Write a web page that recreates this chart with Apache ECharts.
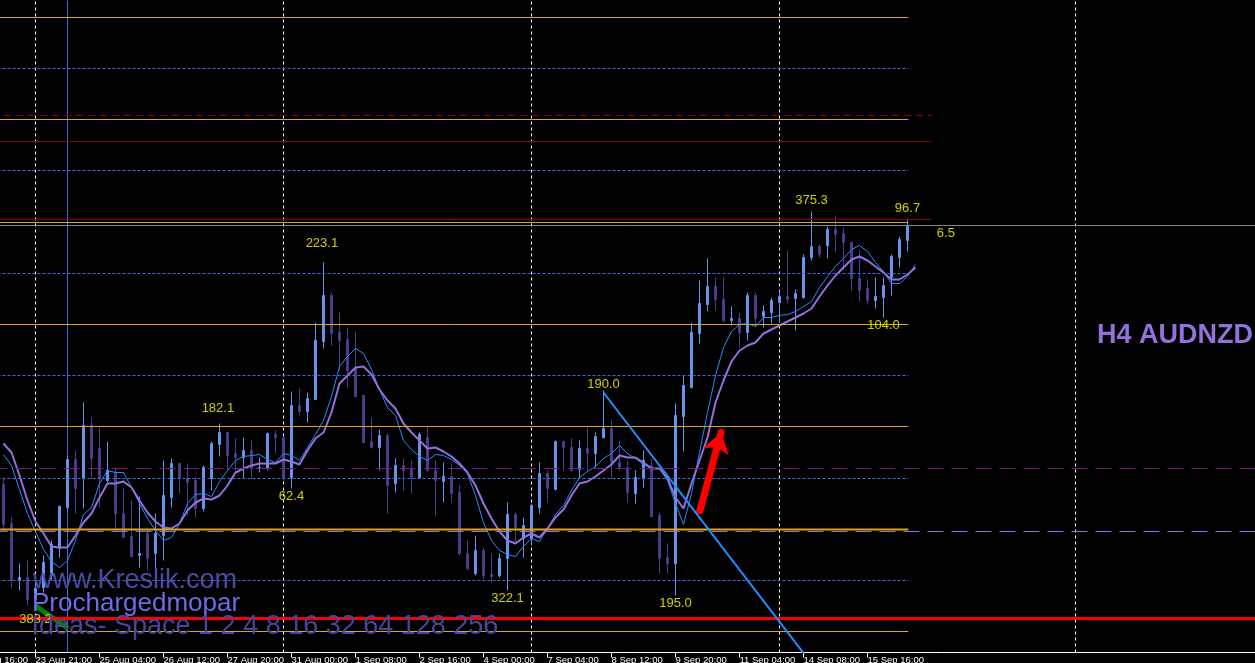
<!DOCTYPE html>
<html><head><meta charset="utf-8">
<script src="https://cdn.jsdelivr.net/npm/echarts@6/dist/echarts.min.js"></script>
<style>html,body{margin:0;padding:0;background:#000;}#c{width:1255px;height:663px;}</style>
</head><body><div id="c"></div>
<script>
// ---- data (price in chart points above the lower edge) ----
const tickLabels = ['20 Aug 16:00','23 Aug 21:00','25 Aug 04:00','26 Aug 12:00','27 Aug 20:00','31 Aug 00:00','1 Sep 08:00','2 Sep 16:00','4 Sep 00:00','7 Sep 04:00','8 Sep 12:00','9 Sep 20:00','11 Sep 04:00','14 Sep 08:00','15 Sep 16:00'];
const opens = [168,129,72,75,53,65,77,104,145,193,174,227,204,172,180,139,116,97,119,99,117,155,189,174,172,144,174,208,220,199,195,202,184,184,218,215,175,247,241,253,311,357,320,313,285,257,211,205,217,169,187,184,175,215,182,171,176,160,99,79,102,78,77,94,138,114,114,145,179,163,211,205,183,204,199,215,224,190,185,159,174,187,137,95,89,236,265,319,348,366,353,332,334,320,357,336,340,350,356,354,355,395,406,407,423,419,410,374,364,352,355,375,395,412];
const closes = [128,72,75,53,64,90,108,146,193,164,227,194,174,182,139,115,96,99,94,119,157,189,174,170,144,185,209,220,197,195,202,184,185,219,215,175,247,241,254,312,357,319,312,282,256,210,205,217,167,187,182,175,218,182,172,176,159,99,84,102,77,76,94,138,125,127,147,179,164,211,205,182,204,199,216,224,190,185,160,175,192,136,94,89,237,267,320,349,366,353,332,334,320,357,334,341,352,356,353,359,395,406,398,423,418,410,374,362,352,356,367,396,413,427];
const lows = [122,64,62,47,46,60,72,95,142,139,144,174,145,170,122,115,95,85,82,82,92,145,159,137,135,141,162,196,182,182,174,174,180,182,199,172,164,237,230,253,304,307,282,265,255,209,204,182,139,160,162,159,174,181,137,150,150,97,82,77,74,70,75,62,109,95,107,139,150,162,182,181,175,182,185,214,174,182,150,149,165,135,79,79,57,201,264,309,341,342,330,327,305,312,325,325,329,330,349,322,354,392,395,394,400,383,362,351,348,344,335,357,385,401];
const highs = [175,135,89,92,77,97,112,147,197,202,250,235,225,211,185,164,152,156,122,139,192,194,190,189,175,187,211,229,221,214,215,212,195,220,222,216,261,264,260,330,390,360,340,325,321,258,235,223,219,194,194,192,220,226,192,190,189,167,112,117,105,99,99,150,140,135,149,190,182,212,212,214,212,225,220,262,233,212,192,182,202,194,140,109,249,277,330,372,394,375,375,346,340,360,360,347,355,362,402,363,398,441,408,426,437,425,411,402,373,375,375,398,416,434];
const maSlow = [209,200,177,152,131,119,106,105,105,117,130,139,155,169,169,171,165,152,140,131,125,124,129,142,150,154,153,157,167,180,184,187,189,189,189,193,191,188,202,214,220,240,269,277,285,286,278,263,252,244,229,220,212,204,205,201,196,189,180,167,149,134,121,112,109,115,119,115,124,135,143,157,169,171,176,182,188,197,195,195,190,184,184,174,155,144,169,192,215,250,272,291,302,307,310,319,323,327,331,335,339,344,356,367,377,385,393,396,392,386,380,373,373,378,385];
const maFast = [198,187,163,139,121,103,91,85,92,112,138,145,169,182,180,180,165,149,134,122,112,115,129,149,158,159,156,171,182,192,196,197,198,193,190,199,197,192,205,218,232,256,286,296,304,299,283,263,245,237,212,203,196,192,198,197,193,187,179,157,130,112,102,98,96,106,114,111,124,138,147,162,175,181,186,194,199,207,199,194,188,184,184,172,149,128,159,200,240,277,305,321,328,329,326,335,335,337,338,341,346,351,365,376,386,394,403,407,401,390,381,369,369,376,388];
const murreyLevels = [635,533,430,328,226,123,21];
const midLevels = [584,482,379,277,174,72];
const resistLevels = [537,511,433];
const bidLevel = 427;
const pivotLevel = 184;
const supportLevel = 121;
const redLevel = 34;
const separatorBars = [4,35,66,97,134];
const markerBar = 8;
const trendBars = [75,101];
const trendLevels = [260,-11];
const upArrowBars = [87.06,89.7];
const upArrowLevels = [142,220];
const greenArrowBars = [3.94,8.1];
const greenArrowLevels = [47,24];
const zzText = ['383.2','182.1','62.4','223.1','322.1','190.0','195.0','375.3','104.0','96.7','6.5'];
const zzBar = [4,26.8,36,39.8,63,75,84,101,110,113,117.8];
const zzLevel = [33,244,156,409,54,268,49,452,327,444,419];

// ---- build ----
const N = 161, LEAD = 4, LAST = opens.length - 1;
const cats = Array.from({length:N}, (_, i) => (i % 8 === 0 && i / 8 < tickLabels.length) ? tickLabels[i / 8] : '');
const candleData = opens.map((o, k) => [k + LEAD, o, closes[k], lows[k], highs[k]]);
const series = [];
function hline(v, xEnd, color, width, type, z) {
  series.push({type:'line', xAxisIndex:1, yAxisIndex:0, data:[[-4.5, v],[xEnd, v]], symbol:'none', silent:true,
    lineStyle:{color:color, width:width, type:type}, z:z || 4});
}
function vline(k, color, type) {
  series.push({type:'line', xAxisIndex:1, yAxisIndex:0, data:[[k, 0],[k, 652]], symbol:'none', silent:true,
    lineStyle:{color:color, width:1, type:type}, z:1});
}
separatorBars.forEach(k => vline(k, '#ffffff', [3,3]));
vline(markerBar, '#4a68e0', 'solid');
series.push({type:'candlestick', xAxisIndex:0, yAxisIndex:0, data:candleData,
  dimensions:['x','open','close','lowest','highest'], encode:{x:0, y:[1,2,3,4]},
  barWidth:2, silent:true, z:2,
  itemStyle:{color:'#6495ED', color0:'#483D8B', borderColor:'#6495ED', borderColor0:'#483D8B', borderWidth:1}});
series.push({type:'line', xAxisIndex:1, yAxisIndex:0, data:maFast.map((v,k)=>[k,v]), symbol:'none', silent:true,
  lineStyle:{color:'#1E90FF', width:1}, z:3});
series.push({type:'line', xAxisIndex:1, yAxisIndex:0, data:maSlow.map((v,k)=>[k,v]), symbol:'none', silent:true,
  lineStyle:{color:'#9370DB', width:2}, z:3});
murreyLevels.forEach((v, i) => hline(v, LAST + 0.1, '#DAA520', v === 123 ? 2 : 1, 'solid'));
midLevels.forEach(v => hline(v, LAST + 0.1, '#4169E1', 1, [3,2]));
resistLevels.forEach((v, i) => hline(v, 116, '#8B0000', 1, i === 0 ? [8,4] : 'solid'));
hline(bidLevel, 156.5, '#888888', 1, 'solid');
hline(pivotLevel, 156.5, '#7f147f', 1, [16,8]);
hline(supportLevel, 156.5, '#9370DB', 1, [16,8]);
hline(redLevel, 156.5, '#FF0000', 3, 'solid', 5);
series.push({type:'line', xAxisIndex:1, yAxisIndex:0, data:trendBars.map((k,i)=>[k, trendLevels[i]]), symbol:'none', silent:true,
  lineStyle:{color:'#1E90FF', width:2}, z:5});
series.push({type:'line', xAxisIndex:1, yAxisIndex:0, data:[], silent:true, z:6,
  markLine:{silent:true, animation:false, label:{show:false},
    data:[[{coord:[upArrowBars[0], upArrowLevels[0]], symbol:'circle', symbolSize:7, itemStyle:{color:'#FF0000'}, lineStyle:{color:'#FF0000', width:7, type:'solid', cap:'round'}},
           {coord:[upArrowBars[1], upArrowLevels[1]], symbol:'arrow', symbolSize:20, itemStyle:{color:'#FF0000'}}],
          [{coord:[greenArrowBars[0], greenArrowLevels[0]], symbol:'none', lineStyle:{color:'#008000', width:5, type:'solid'}},
           {coord:[greenArrowBars[1], greenArrowLevels[1]], symbol:'none'}]]}});
series.push({type:'scatter', xAxisIndex:1, yAxisIndex:0, symbolSize:1, itemStyle:{color:'rgba(0,0,0,0)'}, silent:true, z:8,
  data:zzBar.map((k,i)=>({name:zzText[i], value:[k, zzLevel[i]]})),
  label:{show:true, position:'inside', formatter:'{b}', color:'#FFFF00', fontSize:13, fontFamily:'Liberation Sans, Arial'}});

const chart = echarts.init(document.getElementById('c'), null, {renderer:'canvas'});
chart.setOption({
  backgroundColor:'#000000', animation:false,
  grid:{left:-32.5, top:0.5, width:1288, height:652, outerBoundsMode:'none', containLabel:false},
  xAxis:[
    {type:'category', data:cats, boundaryGap:true,
     axisLine:{show:true, lineStyle:{color:'#ffffff', width:1}},
     axisTick:{show:true, alignWithLabel:true, length:5, interval:(i,v)=>v!=='', lineStyle:{color:'#ffffff'}},
     axisLabel:{show:true, interval:(i,v)=>v!=='', color:'#ffffff', fontSize:9.5, align:'left', margin:3, fontFamily:'Liberation Sans, Arial', hideOverlap:false},
     splitLine:{show:false}},
    {type:'value', min:-4.5, max:156.5, show:false}
  ],
  yAxis:[{type:'value', min:0, max:652, show:false}],
  series:series,
  graphic:[
    {type:'text', x:33, y:580.6, z:100, style:{text:'www.Kreslik.com', font:'27px "Liberation Sans", Arial', fill:'#4b4ba5', verticalAlign:'middle', align:'left'}},
    {type:'text', x:32, y:604, z:100, style:{text:'Prochargedmopar', font:'26px "Liberation Sans", Arial', fill:'#6c6ce6', verticalAlign:'middle', align:'left'}},
    {type:'text', x:31.5, y:626.6, z:100, style:{text:'Ideas- Space 1 2 4 8 16 32 64 128 256', font:'27px "Liberation Sans", Arial', fill:'#46469a', verticalAlign:'middle', align:'left'}},
    {type:'text', x:1097, y:335.6, z:100, style:{text:'H4 AUDNZD', font:'bold 27px "Liberation Sans", Arial', fill:'#9370DB', verticalAlign:'middle', align:'left'}}
  ]
});
</script></body></html>
